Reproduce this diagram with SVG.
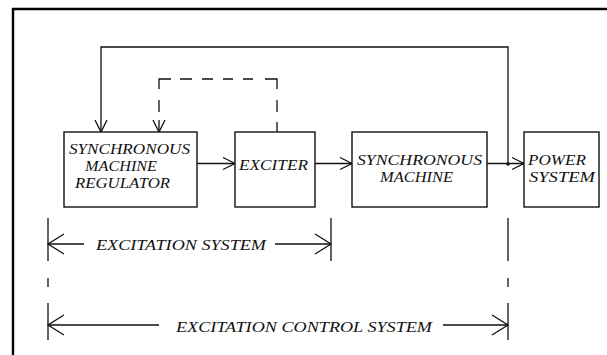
<svg xmlns="http://www.w3.org/2000/svg" width="607" height="355" viewBox="0 0 607 355">
<style>
  .box { fill: #fff; stroke: #111; stroke-width: 1.4; }
  .ln { fill: none; stroke: #111; stroke-width: 1.3; }
  .frame { fill: none; stroke: #000; stroke-width: 2.4; }
  text { font-family: "Liberation Serif", "Times New Roman", serif; font-style: italic; font-size: 15px; fill: #111; }
</style>
<defs>
  <marker id="arr" markerUnits="userSpaceOnUse" markerWidth="14" markerHeight="14" refX="12" refY="6" orient="auto" overflow="visible">
    <path d="M0,0 L12,6 L0,12" fill="none" stroke="#111" stroke-width="1.3"/>
  </marker>
  <marker id="dim" markerUnits="userSpaceOnUse" markerWidth="18" markerHeight="22" refX="16" refY="10" orient="auto" overflow="visible">
    <path d="M0,0 L16,10 L0,20" fill="none" stroke="#111" stroke-width="1.3"/>
  </marker>
</defs>
<rect width="607" height="355" fill="#fff"/>
<path class="frame" d="M13,355 V9 H607"/>

<g id="connectors">
  <path class="ln" d="M197,163.5 H235" marker-end="url(#arr)"/>
  <path class="ln" d="M315,163.5 H352" marker-end="url(#arr)"/>
  <path class="ln" d="M487,163.5 H524" marker-end="url(#arr)"/>
  <path class="ln" d="M508,164 V47 H101 V132" marker-end="url(#arr)"/>
  <circle cx="508" cy="164" r="1.8" fill="#111"/>
  <path class="ln" d="M277,132 V122 M277,112 V100 M277,89 V79 H265 M253,79 H243 M233,79 H223 M213,79 H202 M192,79 H180 M171,79 H159 V89 M159,100 V112"/>
  <path class="ln" d="M159,120 V132" marker-end="url(#arr)"/>
  <path class="ln" d="M48,218 V261 M48,278 V287 M48,303 V340"/>
  <path class="ln" d="M508,218 V261 M508,278 V287 M508,303 V340"/>
  <path class="ln" d="M331,218 V261"/>
  <path class="ln" d="M84,244 H48" marker-end="url(#dim)"/>
  <path class="ln" d="M275,244 H331" marker-end="url(#dim)"/>
  <path class="ln" d="M159,325 H48" marker-end="url(#dim)"/>
  <path class="ln" d="M443,325 H508" marker-end="url(#dim)"/>
</g>

<g id="regulator">
  <rect class="box" x="64" y="132" width="133" height="75"/>
  <text x="69" y="154" textLength="121" lengthAdjust="spacingAndGlyphs">SYNCHRONOUS</text>
  <text x="85" y="171" textLength="72" lengthAdjust="spacingAndGlyphs">MACHINE</text>
  <text x="75" y="188" textLength="95" lengthAdjust="spacingAndGlyphs">REGULATOR</text>
</g>
<g id="exciter">
  <rect class="box" x="235" y="132" width="80" height="75"/>
  <text x="239" y="170" textLength="69" lengthAdjust="spacingAndGlyphs">EXCITER</text>
</g>
<g id="machine">
  <rect class="box" x="352" y="132" width="135" height="75"/>
  <text x="357" y="165" textLength="125" lengthAdjust="spacingAndGlyphs">SYNCHRONOUS</text>
  <text x="380" y="182" textLength="73" lengthAdjust="spacingAndGlyphs">MACHINE</text>
</g>
<g id="power">
  <rect class="box" x="524" y="132" width="75" height="75"/>
  <text x="528" y="165" textLength="58" lengthAdjust="spacingAndGlyphs">POWER</text>
  <text x="529" y="182" textLength="66" lengthAdjust="spacingAndGlyphs">SYSTEM</text>
</g>
<g id="excitation-system">
  <text x="96" y="250" textLength="170" lengthAdjust="spacingAndGlyphs">EXCITATION  SYSTEM</text>
</g>
<g id="excitation-control-system">
  <text x="176" y="332" textLength="256" lengthAdjust="spacingAndGlyphs">EXCITATION  CONTROL  SYSTEM</text>
</g>
</svg>
